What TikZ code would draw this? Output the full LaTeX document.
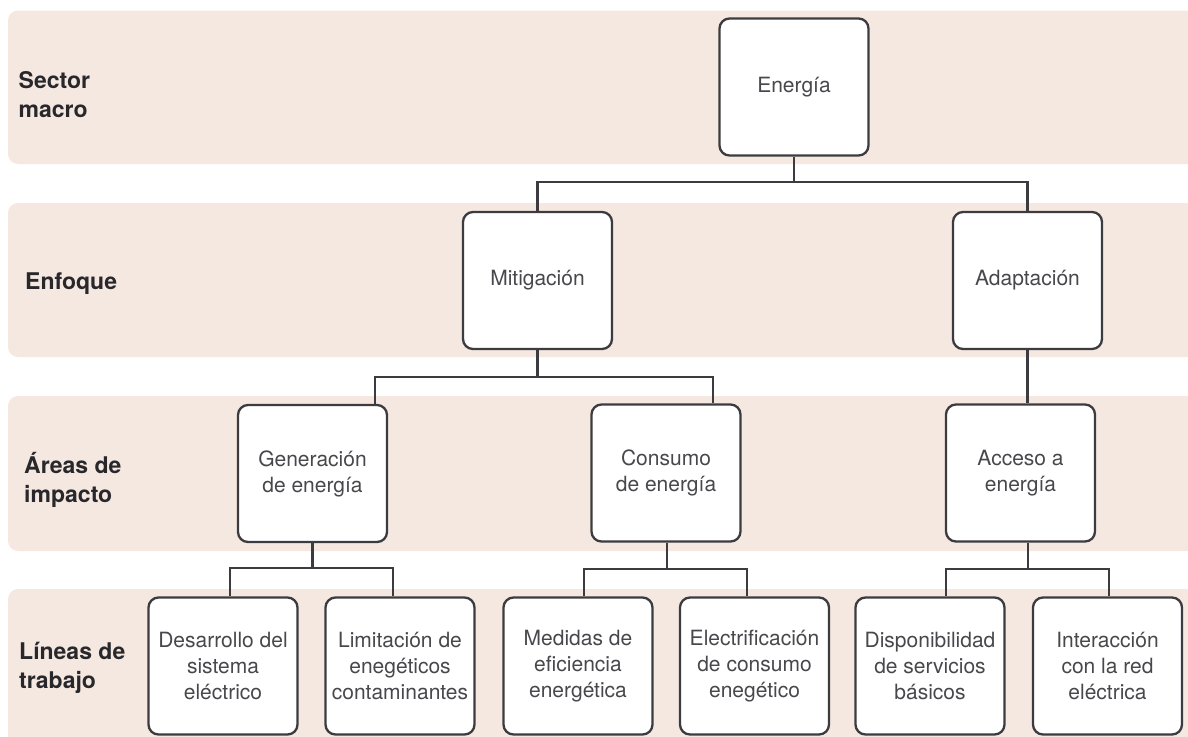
\documentclass[tikz,border=0pt]{standalone}
\usepackage{fontspec}
\setmainfont{TeX Gyre Heros}
\definecolor{banda}{RGB}{245,232,225}
\definecolor{linea}{RGB}{60,60,64}
\definecolor{texto}{RGB}{72,72,76}
\definecolor{textorot}{RGB}{40,40,44}
\begin{document}
\begin{tikzpicture}[x=1pt,y=-1pt,
    caja/.style={draw=linea,line width=2.3pt,rounded corners=10pt,fill=white,
      minimum width=149pt,minimum height=137pt,inner sep=0pt,align=center,
      text=texto,font=\fontsize{21}{26}\selectfont},
    rotulo/.style={anchor=base west,align=left,inner sep=0pt,text=textorot,
      font=\bfseries\fontsize{23}{29}\selectfont},
    enlace/.style={draw=linea,line width=2.3pt}]
    \useasboundingbox (0,0) rectangle (1188,736);
    % bandas
    \fill [banda,rounded corners=10pt] (8,10.5) rectangle (1210,164);
    \fill [banda,rounded corners=10pt] (8,203) rectangle (1210,357);
    \fill [banda,rounded corners=10pt] (8,396) rectangle (1210,551);
    \fill [banda,rounded corners=10pt] (8,589) rectangle (1210,760);
    \node [rotulo] (rsec) at (18.5,117) {Sector\\macro};
    \node [rotulo] (renf) at (25,289) {Enfoque};
    \node [rotulo] (rare) at (24,502) {Áreas de\\impacto};
    \node [rotulo] (rlin) at (19,688) {Líneas de\\trabajo};
    % cajas
    \node [caja] (ene) at (794,87) {Energía};
    \node [caja] (mit) at (537.5,280.5) {Mitigación};
    \node [caja] (ada) at (1027.5,280.5) {Adaptación};
    \node [caja] (gen) at (312.5,473.5) {Generación\\de energía};
    \node [caja] (con) at (666,473) {Consumo\\de energía};
    \node [caja] (acc) at (1020.5,473) {Acceso a\\energía};
    \node [caja] (des) at (223,666) {Desarrollo del\\sistema\\eléctrico};
    \node [caja] (lim) at (400,666) {Limitación de\\enegéticos\\contaminantes};
    \node [caja] (med) at (578,666) {Medidas de\\eficiencia\\energética};
    \node [caja] (ele) at (754.5,666) {Electrificación\\de consumo\\enegético};
    \node [caja] (dis) at (930,666) {Disponibilidad\\de servicios\\básicos};
    \node [caja] (int) at (1107.5,666) {Interacción\\con la red\\eléctrica};
    % conectores
    \draw [enlace] (ene.south) -- ++(0,25) coordinate (j1);
    \draw [enlace] (mit.north) |- (j1) -| (ada.north);
    \draw [enlace] (mit.south) -- ++(0,27) coordinate (j2);
    \draw [enlace] ([xshift=62.5pt]gen.north) |- (j2) -| ([xshift=47pt]con.north);
    \draw [enlace] (ada.south) -- (ada.south |- acc.north);
    \draw [enlace] (gen.south) -- ++(0,25) coordinate (j3);
    \draw [enlace] ([xshift=7pt]des.north) |- (j3) -| ([xshift=-7pt]lim.north);
    \draw [enlace] ([xshift=1pt]con.south) -- ++(0,26) coordinate (j4);
    \draw [enlace] ([xshift=6pt]med.north) |- (j4) -| ([xshift=-7.5pt]ele.north);
    \draw [enlace] ([xshift=7.5pt]acc.south) -- ++(0,26) coordinate (j5);
    \draw [enlace] ([xshift=16pt]dis.north) |- (j5) -| ([xshift=1.5pt]int.north);
\end{tikzpicture}
\end{document}
